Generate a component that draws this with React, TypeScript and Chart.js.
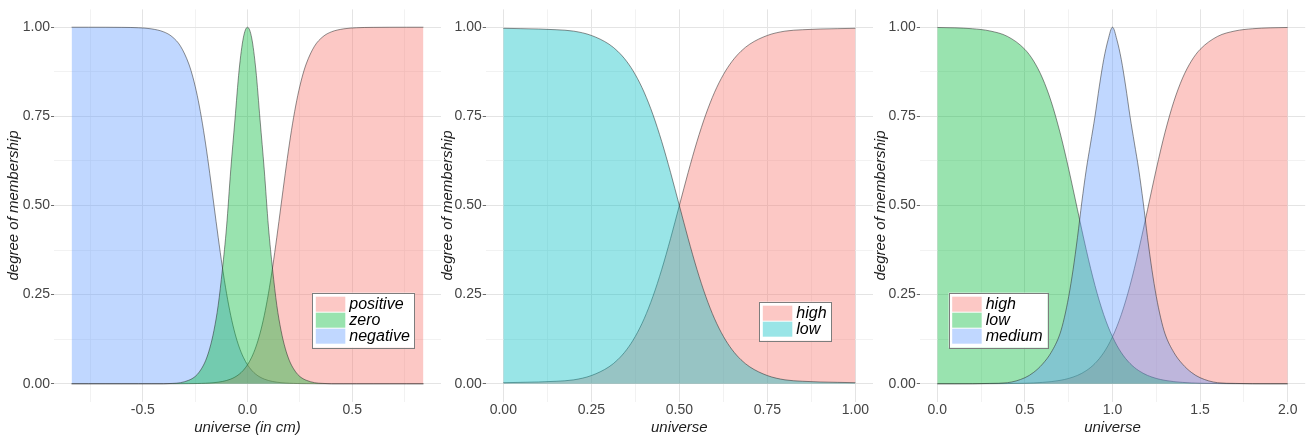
import React, { useEffect, useRef } from "react";
import { Chart, registerables } from "chart.js";

Chart.register(...registerables);

// ---------- error universe (cm) ----------
const ERR_X = [-0.84, -0.76, -0.68, -0.6, -0.52, -0.46, -0.4, -0.36, -0.32, -0.28, -0.26, -0.24, -0.22, -0.2, -0.18, -0.16, -0.14, -0.12, -0.1, -0.08, -0.06, -0.04, -0.02, 0, 0.02, 0.04, 0.06, 0.08, 0.1, 0.12, 0.14, 0.16, 0.18, 0.2, 0.22, 0.24, 0.26, 0.28, 0.32, 0.36, 0.4, 0.46, 0.52, 0.6, 0.68, 0.76, 0.84];
const ERR_POSITIVE = [0, 0, 0, 0, 0, 0, 0, 0.0001, 0.0002, 0.0004, 0.0005, 0.0007, 0.0011, 0.0015, 0.0022, 0.0031, 0.0045, 0.0064, 0.0092, 0.0131, 0.0187, 0.0266, 0.0377, 0.0532, 0.0745, 0.1034, 0.1419, 0.1915, 0.2535, 0.3274, 0.411, 0.5, 0.589, 0.6726, 0.7465, 0.8085, 0.8581, 0.8966, 0.9469, 0.9734, 0.9869, 0.9955, 0.9985, 0.9996, 0.9999, 1, 1];
const ERR_ZERO = [0, 0, 0, 0, 0, 0, 0, 0.001, 0.003, 0.01, 0.016, 0.026, 0.042, 0.065, 0.1, 0.15, 0.22, 0.32, 0.44, 0.6, 0.74, 0.88, 0.97, 1, 0.97, 0.88, 0.74, 0.6, 0.44, 0.32, 0.22, 0.15, 0.1, 0.065, 0.042, 0.026, 0.016, 0.01, 0.003, 0.001, 0, 0, 0, 0, 0, 0, 0];
const ERR_NEGATIVE = [1, 1, 0.9999, 0.9996, 0.9985, 0.9955, 0.9869, 0.9734, 0.9469, 0.8966, 0.8581, 0.8085, 0.7465, 0.6726, 0.589, 0.5, 0.411, 0.3274, 0.2535, 0.1915, 0.1419, 0.1034, 0.0745, 0.0532, 0.0377, 0.0266, 0.0187, 0.0131, 0.0092, 0.0064, 0.0045, 0.0031, 0.0022, 0.0015, 0.0011, 0.0007, 0.0005, 0.0004, 0.0002, 0.0001, 0, 0, 0, 0, 0, 0, 0];

// ---------- unit universe ----------
const UNIT_X = [0, 0.05, 0.1, 0.15, 0.2, 0.25, 0.3, 0.325, 0.35, 0.375, 0.4, 0.425, 0.45, 0.475, 0.5, 0.525, 0.55, 0.575, 0.6, 0.625, 0.65, 0.675, 0.7, 0.75, 0.8, 0.85, 0.9, 0.95, 1];
const UNIT_HIGH = [0.003, 0.004, 0.005, 0.007, 0.011, 0.023, 0.0474, 0.0675, 0.0953, 0.133, 0.1824, 0.2451, 0.3208, 0.4073, 0.5, 0.5927, 0.6792, 0.7549, 0.8176, 0.867, 0.9047, 0.9325, 0.9526, 0.977, 0.989, 0.993, 0.995, 0.996, 0.997];
const UNIT_LOW = [0.997, 0.996, 0.995, 0.993, 0.989, 0.977, 0.9526, 0.9325, 0.9047, 0.867, 0.8176, 0.7549, 0.6792, 0.5927, 0.5, 0.4073, 0.3208, 0.2451, 0.1824, 0.133, 0.0953, 0.0675, 0.0474, 0.023, 0.011, 0.007, 0.005, 0.004, 0.003];

// ---------- 0..2 universe ----------
const TWO_X = [0, 0.1, 0.2, 0.3, 0.4, 0.5, 0.55, 0.6, 0.65, 0.7, 0.725, 0.75, 0.775, 0.8, 0.825, 0.85, 0.875, 0.9, 0.925, 0.95, 0.975, 1, 1.025, 1.05, 1.075, 1.1, 1.125, 1.15, 1.175, 1.2, 1.225, 1.25, 1.275, 1.3, 1.35, 1.4, 1.45, 1.5, 1.6, 1.7, 1.8, 1.9, 2];
const TWO_HIGH = [0, 0, 0.0001, 0.0002, 0.0006, 0.0015, 0.0024, 0.0038, 0.006, 0.0095, 0.0119, 0.015, 0.0188, 0.0235, 0.0294, 0.0368, 0.0458, 0.057, 0.0707, 0.0874, 0.1075, 0.1317, 0.1603, 0.1937, 0.2322, 0.2757, 0.3238, 0.3761, 0.4314, 0.4885, 0.5459, 0.602, 0.6556, 0.7055, 0.7915, 0.8574, 0.905, 0.9378, 0.9743, 0.9896, 0.9958, 0.9983, 0.9993];
const TWO_LOW = [0.9993, 0.9983, 0.9958, 0.9896, 0.9743, 0.9378, 0.905, 0.8574, 0.7915, 0.7055, 0.6556, 0.602, 0.5459, 0.4885, 0.4314, 0.3761, 0.3238, 0.2757, 0.2322, 0.1937, 0.1603, 0.1317, 0.1075, 0.0874, 0.0707, 0.057, 0.0458, 0.0368, 0.0294, 0.0235, 0.0188, 0.015, 0.0119, 0.0095, 0.006, 0.0038, 0.0024, 0.0015, 0.0006, 0.0002, 0.0001, 0, 0];
const TWO_MEDIUM = [0, 0, 0, 0.001, 0.003, 0.017, 0.032, 0.055, 0.088, 0.14, 0.185, 0.245, 0.32, 0.41, 0.51, 0.6, 0.675, 0.75, 0.835, 0.91, 0.965, 1, 0.965, 0.91, 0.835, 0.75, 0.675, 0.6, 0.51, 0.41, 0.32, 0.245, 0.185, 0.14, 0.088, 0.055, 0.032, 0.017, 0.003, 0.001, 0, 0, 0];

// ---------- ticks ----------
const Y_MAJOR = [0, 0.25, 0.5, 0.75, 1];
const Y_MINOR = [0.125, 0.375, 0.625, 0.875];
const Y_LABELS = ["0.00", "0.25", "0.50", "0.75", "1.00"];

const ERR_X_MAJOR = [-0.5, 0, 0.5];
const ERR_X_MINOR = [-0.75, -0.25, 0.25, 0.75];
const ERR_X_LABELS = ["-0.5", "0.0", "0.5"];

const UNIT_X_MAJOR = [0, 0.25, 0.5, 0.75, 1];
const UNIT_X_MINOR = [0.125, 0.375, 0.625, 0.875];
const UNIT_X_LABELS = ["0.00", "0.25", "0.50", "0.75", "1.00"];

const TWO_X_MAJOR = [0, 0.5, 1, 1.5, 2];
const TWO_X_MINOR = [0.25, 0.75, 1.25, 1.75];
const TWO_X_LABELS = ["0.0", "0.5", "1.0", "1.5", "2.0"];

// ---------- style ----------
const FONT_FAMILY = '"Liberation Sans", Arial, Helvetica, sans-serif';
const PINK = "rgba(248,118,109,0.4)";
const GREEN = "rgba(0,186,56,0.4)";
const BLUE = "rgba(97,156,255,0.4)";
const CYAN = "rgba(0,191,196,0.4)";
const OUTLINE = "rgba(40,40,40,0.75)";
const GRID_MAJOR = "#e4e4e4";
const GRID_MINOR = "#efefef";
const TICK_TEXT = "#444444";
const TITLE_TEXT = "#1e1e1e";
const CANVAS_H = 439;
const X_AXIS_H = 37.4;

type Series = { label: string; xs: number[]; ys: number[]; fill: string; order: number };
type LegendEntry = { label: string; color: string };
type PanelSpec = {
  left: number;
  width: number;
  yAxisWidth: number;
  padRight: number;
  yTitlePad: number;
  xMin: number;
  xMax: number;
  xMajor: number[];
  xMinor: number[];
  xLabels: string[];
  xTitle: string;
  series: Series[];
  legend: LegendEntry[];
  legendX: number;
  legendY: number;
};

const PANELS: PanelSpec[] = [
  {
    left: 0, width: 441, yAxisWidth: 54, padRight: 0, yTitlePad: 5,
    xMin: -0.924, xMax: 0.924,
    xMajor: ERR_X_MAJOR, xMinor: ERR_X_MINOR, xLabels: ERR_X_LABELS,
    xTitle: "universe (in cm)",
    series: [
      { label: "negative", xs: ERR_X, ys: ERR_NEGATIVE, fill: BLUE, order: 3 },
      { label: "positive", xs: ERR_X, ys: ERR_POSITIVE, fill: PINK, order: 2 },
      { label: "zero", xs: ERR_X, ys: ERR_ZERO, fill: GREEN, order: 1 },
    ],
    legend: [
      { label: "positive", color: PINK },
      { label: "zero", color: GREEN },
      { label: "negative", color: BLUE },
    ],
    legendX: 312.3, legendY: 292.7,
  },
  {
    left: 437, width: 436, yAxisWidth: 48.7, padRight: 0, yTitlePad: 1.5,
    xMin: -0.05, xMax: 1.05,
    xMajor: UNIT_X_MAJOR, xMinor: UNIT_X_MINOR, xLabels: UNIT_X_LABELS,
    xTitle: "universe",
    series: [
      { label: "high", xs: UNIT_X, ys: UNIT_HIGH, fill: PINK, order: 2 },
      { label: "low", xs: UNIT_X, ys: UNIT_LOW, fill: CYAN, order: 1 },
    ],
    legend: [
      { label: "high", color: PINK },
      { label: "low", color: CYAN },
    ],
    legendX: 322.3, legendY: 301.7,
  },
  {
    left: 870, width: 441, yAxisWidth: 49.8, padRight: 5.8, yTitlePad: 1.8,
    xMin: -0.1, xMax: 2.1,
    xMajor: TWO_X_MAJOR, xMinor: TWO_X_MINOR, xLabels: TWO_X_LABELS,
    xTitle: "universe",
    series: [
      { label: "high", xs: TWO_X, ys: TWO_HIGH, fill: PINK, order: 3 },
      { label: "low", xs: TWO_X, ys: TWO_LOW, fill: GREEN, order: 2 },
      { label: "medium", xs: TWO_X, ys: TWO_MEDIUM, fill: BLUE, order: 1 },
    ],
    legend: [
      { label: "high", color: PINK },
      { label: "low", color: GREEN },
      { label: "medium", color: BLUE },
    ],
    legendX: 78.7, legendY: 292.7,
  },
];

const near = (a: number, b: number) => Math.abs(a - b) < 1e-6;
const isIn = (v: number, arr: number[]) => arr.some((a) => near(a, v));
const labelOf = (v: number, major: number[], labels: string[]) => {
  const i = major.findIndex((m) => near(m, v));
  return i >= 0 ? labels[i] : "";
};

function boxLegend(entries: LegendEntry[], x: number, y: number) {
  return {
    id: "boxLegend",
    afterDraw(chart: any) {
      const ctx: CanvasRenderingContext2D = chart.ctx;
      ctx.save();
      ctx.font = `italic 16px ${FONT_FAMILY}`;
      const rowH = 16;
      const pad = 3.5;
      const keyW = 29.5;
      const gap = 4;
      const textW = Math.max(...entries.map((e) => ctx.measureText(e.label).width));
      const w = pad + keyW + gap + textW + 5;
      const h = pad * 2 + rowH * entries.length;
      ctx.fillStyle = "#ffffff";
      ctx.fillRect(x, y, w, h);
      ctx.strokeStyle = "#7d7d7d";
      ctx.lineWidth = 1;
      ctx.strokeRect(Math.round(x) + 0.5, Math.round(y) + 0.5, Math.round(w), Math.round(h));
      entries.forEach((e, i) => {
        const ry = y + pad + i * rowH;
        ctx.fillStyle = e.color;
        ctx.fillRect(x + pad, ry + 0.5, keyW, rowH - 1);
        ctx.fillStyle = "#000000";
        ctx.textAlign = "left";
        ctx.textBaseline = "middle";
        ctx.fillText(e.label, x + pad + keyW + gap, ry + rowH / 2 + 0.5);
      });
      ctx.restore();
    },
  };
}

function Panel({ spec }: { spec: PanelSpec }) {
  const ref = useRef<HTMLCanvasElement | null>(null);

  useEffect(() => {
    if (!ref.current) return;
    const tickFont = { family: FONT_FAMILY, size: 14, lineHeight: 1.2 };
    const titleFont = { family: FONT_FAMILY, size: 15, style: "italic" as const, lineHeight: 1.2 };

    const chart = new Chart(ref.current, {
      type: "line",
      data: {
        datasets: spec.series.map((s) => ({
          label: s.label,
          data: s.xs.map((x, i) => ({ x, y: s.ys[i] })),
          backgroundColor: s.fill,
          borderColor: OUTLINE,
          borderWidth: 0.7,
          fill: "origin",
          pointRadius: 0,
          pointHoverRadius: 0,
          cubicInterpolationMode: "monotone" as const,
          order: s.order,
        })),
      },
      options: {
        animation: false,
        responsive: false,
        maintainAspectRatio: false,
        events: [],
        layout: { padding: { left: 0, right: spec.padRight, top: 0, bottom: 0 } },
        plugins: {
          legend: { display: false },
          tooltip: { enabled: false },
        },
        scales: {
          x: {
            type: "linear",
            min: spec.xMin,
            max: spec.xMax,
            afterBuildTicks: (scale: any) => {
              scale.ticks = [...spec.xMajor, ...spec.xMinor]
                .sort((a, b) => a - b)
                .map((value) => ({ value }));
            },
            afterFit: (scale: any) => {
              scale.height = X_AXIS_H;
            },
            border: { display: false },
            grid: {
              drawTicks: false,
              color: (c: any) => (isIn(c.tick?.value, spec.xMajor) ? GRID_MAJOR : GRID_MINOR),
              lineWidth: (c: any) => (isIn(c.tick?.value, spec.xMajor) ? 1 : 0.8),
            },
            ticks: {
              autoSkip: false,
              maxRotation: 0,
              padding: 0,
              color: TICK_TEXT,
              font: tickFont,
              callback: (v: any) => labelOf(Number(v), spec.xMajor, spec.xLabels),
            },
            title: {
              display: true,
              text: spec.xTitle,
              color: TITLE_TEXT,
              font: titleFont,
              padding: { top: 0, bottom: 2 },
            },
          },
          y: {
            type: "linear",
            min: -0.05,
            max: 1.05,
            afterBuildTicks: (scale: any) => {
              scale.ticks = [...Y_MAJOR, ...Y_MINOR]
                .sort((a, b) => a - b)
                .map((value) => ({ value }));
            },
            afterFit: (scale: any) => {
              scale.width = spec.yAxisWidth;
            },
            border: { display: false },
            grid: {
              drawTicks: true,
              tickLength: 3,
              tickWidth: 1,
              tickColor: (c: any) => (isIn(c.tick?.value, Y_MAJOR) ? "#6a6a6a" : "rgba(0,0,0,0)"),
              color: (c: any) => (isIn(c.tick?.value, Y_MAJOR) ? GRID_MAJOR : GRID_MINOR),
              lineWidth: (c: any) => (isIn(c.tick?.value, Y_MAJOR) ? 1 : 0.8),
            },
            ticks: {
              autoSkip: false,
              padding: 1,
              color: TICK_TEXT,
              font: tickFont,
              callback: (v: any) => labelOf(Number(v), Y_MAJOR, Y_LABELS),
            },
            title: {
              display: true,
              text: "degree of membership",
              color: TITLE_TEXT,
              font: titleFont,
              padding: { top: spec.yTitlePad, bottom: 0 },
            },
          },
        },
      },
      plugins: [boxLegend(spec.legend, spec.legendX, spec.legendY)],
    } as any);

    return () => chart.destroy();
  }, [spec]);

  return (
    <canvas
      ref={ref}
      width={spec.width}
      height={CANVAS_H}
      style={{ position: "absolute", left: spec.left, top: 0, width: spec.width, height: CANVAS_H }}
    />
  );
}

export default function App() {
  return (
    <div
      style={{
        position: "fixed",
        left: 0,
        top: 0,
        width: 1311,
        height: CANVAS_H,
        background: "#ffffff",
        overflow: "hidden",
      }}
    >
      {PANELS.map((p, i) => (
        <Panel key={i} spec={p} />
      ))}
    </div>
  );
}
